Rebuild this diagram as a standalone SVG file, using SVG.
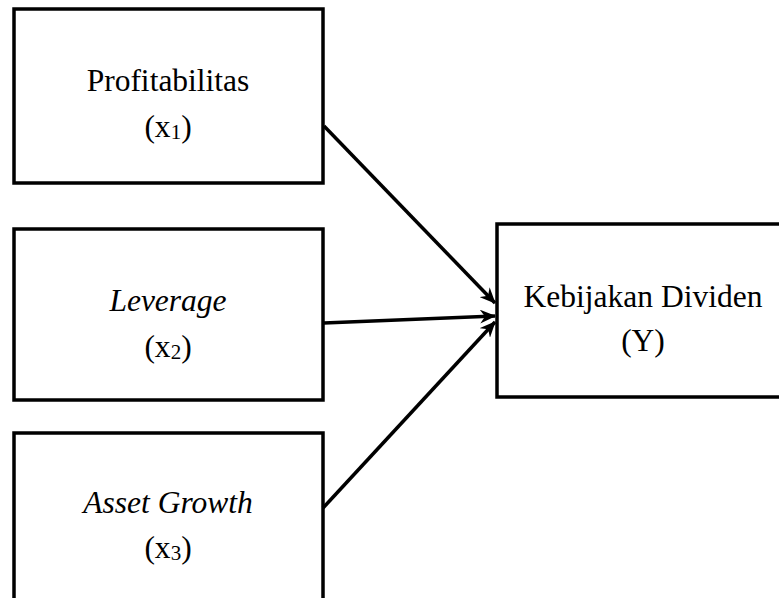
<svg xmlns="http://www.w3.org/2000/svg" width="779" height="598" viewBox="0 0 779 598">
<style>
.box{fill:#fff;stroke:#000;stroke-width:3.5}
.t{font-family:"Liberation Serif","Times New Roman",serif;font-size:31.5px;fill:#000;text-anchor:middle}
.i{font-style:italic}
.sub{font-size:21px}
.con{fill:none;stroke:#000;stroke-width:3.5}
</style>
<defs>
<marker id="ah" markerUnits="userSpaceOnUse" viewBox="0 0 16 14" refX="15" refY="7" markerWidth="16" markerHeight="14" orient="auto">
<path d="M0,0 L16,7 L0,14 L5,7 z" fill="#000"/>
</marker>
</defs>
<g id="x1">
<rect class="box" x="14" y="9" width="309" height="174"/>
<text class="t" x="168" y="91">Profitabilitas</text>
<text class="t" x="168" y="137">(x<tspan class="sub" dy="2">1</tspan><tspan dy="-2">)</tspan></text>
</g>
<g id="x2">
<rect class="box" x="14" y="229" width="309" height="171"/>
<text class="t i" x="168" y="311">Leverage</text>
<text class="t" x="168" y="357">(x<tspan class="sub" dy="2">2</tspan><tspan dy="-2">)</tspan></text>
</g>
<g id="x3">
<rect class="box" x="14" y="433" width="309" height="180"/>
<text class="t i" x="168" y="513">Asset Growth</text>
<text class="t" x="168" y="558">(x<tspan class="sub" dy="2">3</tspan><tspan dy="-2">)</tspan></text>
</g>
<g id="y">
<rect class="box" x="497" y="224" width="300" height="173"/>
<text class="t" x="643" y="307">Kebijakan Dividen</text>
<text class="t" x="643" y="351">(Y)</text>
</g>
<g id="connectors">
<line class="con" x1="324" y1="126" x2="495" y2="303" marker-end="url(#ah)"/>
<line class="con" x1="324" y1="323" x2="495" y2="316" marker-end="url(#ah)"/>
<line class="con" x1="323" y1="508" x2="495" y2="322" marker-end="url(#ah)"/>
</g>
</svg>
